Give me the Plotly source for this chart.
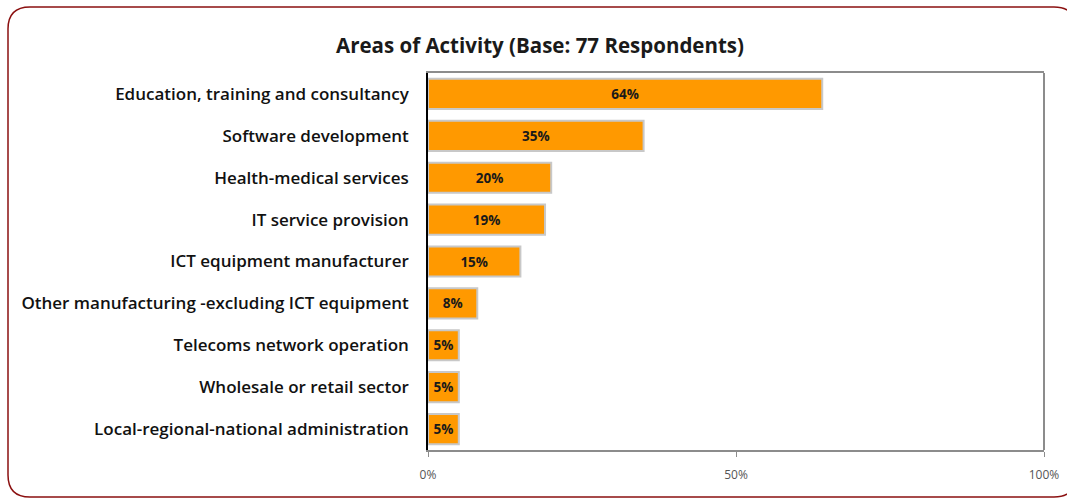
import plotly.graph_objects as go

categories = [
    "Education, training and consultancy",
    "Software development",
    "Health-medical services",
    "IT service provision",
    "ICT equipment manufacturer",
    "Other manufacturing -excluding ICT equipment",
    "Telecoms network operation",
    "Wholesale or retail sector",
    "Local-regional-national administration",
]
shares = [64, 35, 20, 19, 15, 8, 5, 5, 5]
tick_vals = [0, 50, 100]
tick_text = ["0%", "50%", "100%"]

W, H = 1067, 500
L, R, T, B = 428, 23, 73, 50
pw, ph = W - L - R, H - T - B
FONT = "Open Sans"


def px(x):
    return (x - L) / pw


def py(y):
    return (H - B - y) / ph


fig = go.Figure()
fig.add_trace(go.Bar(
    x=shares, y=categories, orientation="h",
    marker=dict(color="#FF9900", line=dict(color="#C8C8C8", width=2)),
    width=0.72,
    text=[f"{v}%" for v in shares],
    textposition="inside", insidetextanchor="middle",
    constraintext="none",
    textfont=dict(family=FONT, size=13.5, color="#1a1a1a", weight="bold"),
    hoverinfo="skip",
))

# rounded outer frame (right side runs off the page like the original)
x0, x1, y0, y1 = px(8), px(1076), py(7), py(497)
rx, ry = 22 / pw, 22 / ph
frame = (f"M {x0+rx},{y0} L {x1-rx},{y0} Q {x1},{y0} {x1},{y0-ry} "
         f"L {x1},{y1+ry} Q {x1},{y1} {x1-rx},{y1} "
         f"L {x0+rx},{y1} Q {x0},{y1} {x0},{y1+ry} "
         f"L {x0},{y0-ry} Q {x0},{y0} {x0+rx},{y0} Z")

fig.update_layout(
    width=W, height=H,
    margin=dict(l=L, r=R, t=T, b=B),
    paper_bgcolor="white", plot_bgcolor="white",
    showlegend=False,
    title=dict(text="<b>Areas of Activity (Base: 77 Respondents)</b>",
               x=540 / W, xref="container", xanchor="center",
               y=1 - 46 / H, yanchor="middle",
               font=dict(family=FONT, size=20.5, color="#1a1a1a")),
    xaxis=dict(range=[0, 100], tickvals=tick_vals, ticktext=tick_text,
               showgrid=False, zeroline=False, automargin=False,
               showline=True, mirror=True, linecolor="#8c8c8c", linewidth=2,
               ticks="outside", ticklen=5, tickcolor="#8c8c8c",
               ticklabelstandoff=8,
               tickfont=dict(family=FONT, size=12, color="#555555"),
               fixedrange=True),
    yaxis=dict(autorange="reversed", showgrid=False, automargin=False,
               showline=True, linecolor="#000000", linewidth=1.5,
               ticks="", ticklabelstandoff=14,
               tickfont=dict(family=FONT, size=17, color="#111111", weight=600),
               fixedrange=True),
    shapes=[
        dict(type="line", xref="x domain", yref="y domain",
             x0=1, x1=1, y0=0, y1=1, line=dict(color="#8c8c8c", width=2)),
        dict(type="path", xref="paper", yref="paper", path=frame,
             line=dict(color="#8B1010", width=1.5), layer="below"),
    ],
)

fig.write_html("out.html", config={"displayModeBar": False},
               post_script="document.body.style.margin='0';")
